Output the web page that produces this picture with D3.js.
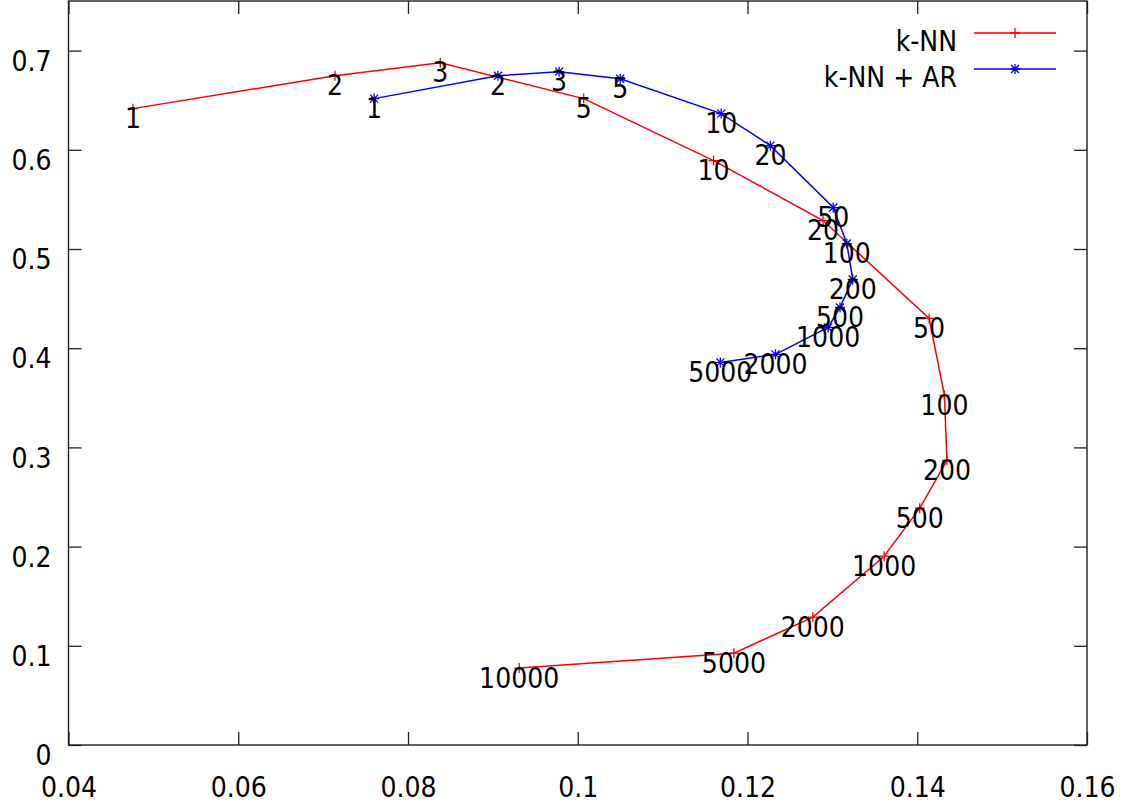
<!DOCTYPE html>
<html>
<head>
<meta charset="utf-8">
<script src="https://cdn.jsdelivr.net/npm/d3@7"></script>
<style>
  body { margin: 0; background: #fff; }
  svg { display: block; }
  text { font-family: "DejaVu Sans Condensed", "DejaVu Sans", sans-serif; font-stretch: condensed; font-size: 28px; fill: #000; }
</style>
</head>
<body>
<div id="chart"></div>
<script>
// k-NN curve
var knnK = [1, 2, 3, 5, 10, 20, 50, 100, 200, 500, 1000, 2000, 5000, 10000];
var knnX = [0.0476, 0.0714, 0.0838, 0.1007, 0.1160, 0.1289, 0.1414, 0.1432, 0.1435, 0.1403, 0.1361, 0.1277, 0.1184, 0.0931];
var knnY = [0.6415, 0.6747, 0.6878, 0.6516, 0.5891, 0.5287, 0.4300, 0.3525, 0.2870, 0.2387, 0.1903, 0.1289, 0.0926, 0.0775];

// k-NN + AR curve
var arK = [1, 2, 3, 5, 10, 20, 50, 100, 200, 500, 1000, 2000, 5000];
var arX = [0.0760, 0.0906, 0.0978, 0.1050, 0.1169, 0.1227, 0.1301, 0.1317, 0.1324, 0.1309, 0.1295, 0.1233, 0.1168];
var arY = [0.6516, 0.6747, 0.6788, 0.6717, 0.6365, 0.6042, 0.5418, 0.5055, 0.4693, 0.4411, 0.4209, 0.3938, 0.3857];

var xTicks = [0.04, 0.06, 0.08, 0.1, 0.12, 0.14, 0.16];
var yTicks = [0, 0.1, 0.2, 0.3, 0.4, 0.5, 0.6, 0.7];

var W = 1123, H = 807;
var margin = {left: 68.5, right: 1087, top: 1, bottom: 745};

var svg = d3.select("#chart").append("svg").attr("width", W).attr("height", H);
svg.append("rect").attr("width", W).attr("height", H).attr("fill", "#fff");

var x = d3.scaleLinear().domain([0.04, 0.16]).range([margin.left, margin.right]);
var y = d3.scaleLinear().domain([0, 0.75]).range([margin.bottom, margin.top]);

function fmt(d) { return String(+d.toFixed(2)); }

// axes, ticks pointing inwards like gnuplot
var gx = svg.append("g").attr("transform", "translate(0," + margin.bottom + ")")
    .call(d3.axisBottom(x).tickValues(xTicks).tickFormat(fmt).tickSizeInner(-13).tickSizeOuter(0).tickPadding(32));
var gy = svg.append("g").attr("transform", "translate(" + margin.left + ",0)")
    .call(d3.axisLeft(y).tickValues(yTicks).tickFormat(fmt).tickSizeInner(-13).tickSizeOuter(0).tickPadding(17));
var gt = svg.append("g").attr("transform", "translate(0," + margin.top + ")")
    .call(d3.axisTop(x).tickValues(xTicks).tickFormat("").tickSizeInner(-13).tickSizeOuter(0));
var gr = svg.append("g").attr("transform", "translate(" + margin.right + ",0)")
    .call(d3.axisRight(y).tickValues(yTicks).tickFormat("").tickSizeInner(-13).tickSizeOuter(0));

[gx, gy, gt, gr].forEach(function(g) {
    g.select(".domain").remove();
    g.selectAll("line").attr("stroke", "#222").attr("stroke-width", 1.3);
    g.selectAll("text").attr("fill", "#000");
    g.attr("font-family", null).attr("font-size", null);
});
gy.selectAll("text").attr("dy", "0.7em");

svg.append("rect").attr("x", margin.left).attr("y", margin.top)
    .attr("width", margin.right - margin.left).attr("height", margin.bottom - margin.top)
    .attr("fill", "none").attr("stroke", "#222").attr("stroke-width", 1.4);

var line = d3.line().x(function(d){return x(d.x);}).y(function(d){return y(d.y);});

function toPoints(ks, xs, ys) {
    return ks.map(function(k, i){ return {k: k, x: xs[i], y: ys[i]}; });
}

var knn = toPoints(knnK, knnX, knnY);
var ar  = toPoints(arK, arX, arY);

function plus(s) { return "M" + (-s) + ",0H" + s + "M0," + (-s) + "V" + s; }
function star(s) { var d = s * 0.8; return plus(s) + "M" + (-d) + "," + (-d) + "L" + d + "," + d + "M" + (-d) + "," + d + "L" + d + "," + (-d); }

function drawSeries(data, color, marker) {
    svg.append("path").attr("d", line(data)).attr("fill", "none").attr("stroke", color).attr("stroke-width", 1.5);
    svg.append("g").selectAll("path").data(data).enter().append("path")
        .attr("transform", function(d){ return "translate(" + x(d.x) + "," + y(d.y) + ")"; })
        .attr("d", marker).attr("fill", "none").attr("stroke", color).attr("stroke-width", 1.3);
}

drawSeries(knn, "#ff0000", plus(5));
drawSeries(ar, "#0000ff", star(5));

function drawLabels(data) {
    svg.append("g").selectAll("text").data(data).enter().append("text")
        .attr("x", function(d){ return x(d.x); })
        .attr("y", function(d){ return y(d.y); })
        .attr("dy", "0.7em")
        .attr("text-anchor", "middle")
        .text(function(d){ return d.k; });
}
drawLabels(knn);
drawLabels(ar);

// legend
var legend = [{name: "k-NN", color: "#ff0000", marker: plus(5)}, {name: "k-NN + AR", color: "#0000ff", marker: star(5)}];
var lg = svg.append("g").selectAll("g").data(legend).enter().append("g")
    .attr("transform", function(d, i){ return "translate(0," + (33 + i * 36) + ")"; });
lg.append("text").attr("x", 957).attr("dy", "0.7em").attr("y", -2).attr("text-anchor", "end").text(function(d){ return d.name; });
lg.append("line").attr("x1", 974).attr("x2", 1056).attr("stroke", function(d){ return d.color; }).attr("stroke-width", 1.5);
lg.append("path").attr("transform", "translate(1015,0)").attr("d", function(d){ return d.marker; })
    .attr("fill", "none").attr("stroke", function(d){ return d.color; }).attr("stroke-width", 1.3);
</script>
</body>
</html>
